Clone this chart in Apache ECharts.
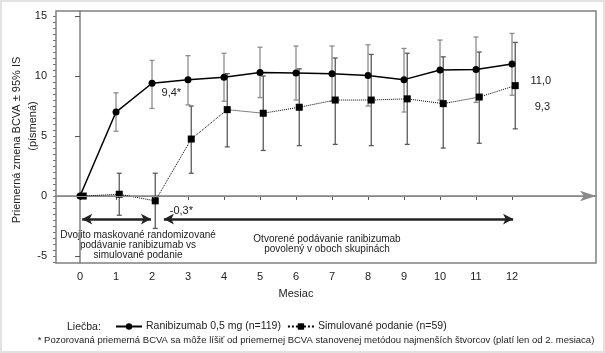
<!DOCTYPE html>
<html>
<head>
<meta charset="utf-8">
<script src="https://cdn.jsdelivr.net/npm/echarts@6/dist/echarts.min.js"></script>
<style>
html, body { margin: 0; padding: 0; background: #fff; }
#main { width: 605px; height: 353px; }
</style>
</head>
<body>
<div id="main"></div>
<script>
// hodnoty odčítané z obrázku
var months = [0, 1, 2, 3, 4, 5, 6, 7, 8, 9, 10, 11, 12];
var ranMean = [0, 7.0, 9.4, 9.7, 9.9, 10.3, 10.25, 10.2, 10.05, 9.7, 10.5, 10.55, 11.0];
var ranLow  = [null, 5.4, 7.3, 7.6, 7.9, 8.2, 8.0, 7.9, 7.5, 7.0, 8.0, 7.8, 8.4];
var ranHigh = [null, 8.6, 11.3, 11.7, 11.9, 12.4, 12.5, 12.5, 12.6, 12.3, 13.0, 13.25, 13.55];
var simMean = [0, 0.15, -0.4, 4.75, 7.2, 6.9, 7.4, 8.0, 8.0, 8.1, 7.7, 8.25, 9.2];
var simLow  = [null, -1.6, -2.7, 1.9, 4.1, 3.8, 4.2, 4.3, 4.2, 4.3, 4.0, 4.4, 5.6];
var simHigh = [null, 1.9, 1.9, 7.5, 10.2, 10.0, 10.6, 11.5, 11.8, 11.9, 11.6, 12.0, 12.8];
var simShift = 0.09;    // štvorce sú mierne posunuté doprava

var yTicks = [-5, 0, 5, 10, 15];
var yMinor = [];
for (var v = -5.5; v <= 15; v += 0.5) { yMinor.push(v); }

var ranLabels = { 2: '9,4*', 12: '11,0' };
var simLabels = { 2: '-0,3*', 12: '9,3' };

var font = 'Liberation Sans, Arial, sans-serif';

function lineData(means, shift, labels, offset) {
    return means.map(function (m, i) {
        var item = { value: [months[i] + shift, m] };
        if (labels[i]) {
            item.label = {
                show: true, formatter: labels[i], position: 'right',
                offset: offset[i], color: '#222', fontSize: 11, fontFamily: font
            };
        }
        return item;
    });
}

function errData(low, high, shift) {
    var out = [];
    for (var i = 0; i < months.length; i++) {
        if (low[i] === null) continue;
        out.push([months[i] + shift, low[i], high[i]]);
    }
    return out;
}

function errRender(color) {
    return function (params, api) {
        var p1 = api.coord([api.value(0), api.value(1)]);
        var p2 = api.coord([api.value(0), api.value(2)]);
        var w = 2.5;
        var st = { stroke: color, lineWidth: 1.3 };
        return {
            type: 'group',
            children: [
                { type: 'line', shape: { x1: p1[0], y1: p1[1], x2: p2[0], y2: p2[1] }, style: st },
                { type: 'line', shape: { x1: p1[0] - w, y1: p1[1], x2: p1[0] + w, y2: p1[1] }, style: st },
                { type: 'line', shape: { x1: p2[0] - w, y1: p2[1], x2: p2[0] + w, y2: p2[1] }, style: st }
            ]
        };
    };
}

var chart = echarts.init(document.getElementById('main'), null, { renderer: 'canvas' });

var option = {
    animation: false,
    backgroundColor: '#fff',
    textStyle: { fontFamily: font },
    grid: {
        left: 56, top: 11, right: 9, bottom: 90,
        show: true, borderColor: '#808080', borderWidth: 1.5
    },
    legend: {
        data: ['Ranibizumab 0,5 mg (n=119)', 'Simulované podanie (n=59)'],
        left: 110, top: 316,
        itemWidth: 26, itemHeight: 8, itemGap: 6,
        textStyle: { color: '#222', fontSize: 10.5, fontFamily: font, padding: [0, 0, 0, -1] }
    },
    xAxis: {
        type: 'value', min: -0.667, max: 14.333,
        splitLine: { show: false },
        axisLine: { lineStyle: { color: '#808080', width: 1.5 } },
        axisTick: { customValues: months, length: 4, lineStyle: { color: '#555' } },
        axisLabel: { customValues: months, color: '#222', fontSize: 11, margin: 8 }
    },
    yAxis: [{
        type: 'value', min: -5.58, max: 15.42,
        splitLine: { show: false },
        axisLine: { show: true, lineStyle: { color: '#808080', width: 1.5 } },
        axisTick: { customValues: yTicks, length: 5, lineStyle: { color: '#555' } },
        axisLabel: { customValues: yTicks, color: '#222', fontSize: 11, margin: 9 }
    }, {
        type: 'value', min: -5.58, max: 15.42, position: 'left',
        splitLine: { show: false },
        axisLine: { show: false },
        axisTick: { show: true, customValues: yMinor, length: 3, lineStyle: { color: '#777' } },
        axisLabel: { show: false }
    }],
    graphic: [
        { type: 'rect', shape: { x: 0, y: 0, width: 605, height: 353 }, style: { fill: 'none', stroke: '#e2e2e2', lineWidth: 4 }, silent: true },
        { type: 'text', x: 17, y: 140, rotation: Math.PI / 2,
          style: { text: 'Priemerná zmena BCVA ± 95% IS', fill: '#222', font: '11px ' + font, align: 'center', verticalAlign: 'middle' } },
        { type: 'text', x: 33, y: 126, rotation: Math.PI / 2,
          style: { text: '(písmená)', fill: '#222', font: '11px ' + font, align: 'center', verticalAlign: 'middle' } },
        { type: 'text', x: 296, y: 294,
          style: { text: 'Mesiac', fill: '#222', font: '11px ' + font, align: 'center', verticalAlign: 'middle' } },
        { type: 'text', x: 138, y: 230,
          style: { text: 'Dvojito maskované randomizované\npodávanie ranibizumab vs\nsimulované podanie', fill: '#222', font: '10px ' + font, align: 'center', verticalAlign: 'top', lineHeight: 10 } },
        { type: 'text', x: 327, y: 234,
          style: { text: 'Otvorené podávanie ranibizumab\npovolený v oboch skupinách', fill: '#222', font: '10px ' + font, align: 'center', verticalAlign: 'top', lineHeight: 10 } },
        { type: 'text', x: 67, y: 327,
          style: { text: 'Liečba:', fill: '#222', font: '10.5px ' + font, verticalAlign: 'middle' } },
        { type: 'text', x: 316, y: 340,
          style: { text: '* Pozorovaná priemerná BCVA sa môže líšiť od priemernej BCVA stanovenej metódou najmenších štvorcov (platí len od 2. mesiaca)', fill: '#222', font: '9.5px ' + font, align: 'center', verticalAlign: 'middle' } }
    ],
    series: [
        {
            name: 'ref',
            type: 'line', data: [], silent: true,
            markLine: {
                silent: true, label: { show: false },
                data: [
                    { yAxis: 0, symbol: 'none', lineStyle: { color: '#8a8a8a', width: 1, type: 'solid' } },
                    [{ coord: [0.06, -1.92], symbol: 'arrow', symbolSize: [8, 10], lineStyle: { color: '#222', width: 2.5, type: 'solid' } },
                     { coord: [1.97, -1.92], symbol: 'arrow', symbolSize: [8, 10] }],
                    [{ coord: [2.33, -1.92], symbol: 'arrow', symbolSize: [8, 10], lineStyle: { color: '#222', width: 2.5, type: 'solid' } },
                     { coord: [12.03, -1.92], symbol: 'arrow', symbolSize: [8, 10] }]
                ]
            }
        },
        {
            name: 'ranErr', type: 'custom', z: 1,
            renderItem: errRender('#8c8c8c'),
            data: errData(ranLow, ranHigh, 0)
        },
        {
            name: 'simErr', type: 'custom', z: 1,
            renderItem: errRender('#5a5a5a'),
            data: errData(simLow, simHigh, simShift)
        },
        {
            name: 'Ranibizumab 0,5 mg (n=119)', type: 'line', z: 3,
            symbol: 'circle', symbolSize: 7,
            itemStyle: { color: '#000' },
            lineStyle: { color: '#000', width: 1.5, type: 'solid' },
            data: lineData(ranMean, 0, ranLabels, { 2: [1, 10], 12: [10, 17] })
        },
        {
            name: 'Simulované podanie (n=59)', type: 'line', z: 3,
            symbol: 'rect', symbolSize: 7,
            itemStyle: { color: '#000' },
            lineStyle: { color: '#000', width: 1, type: 'dotted' },
            data: lineData(simMean, simShift, simLabels, { 2: [6, 10], 12: [11, 21] })
        }
    ]
};

chart.setOption(option);
</script>
</body>
</html>
